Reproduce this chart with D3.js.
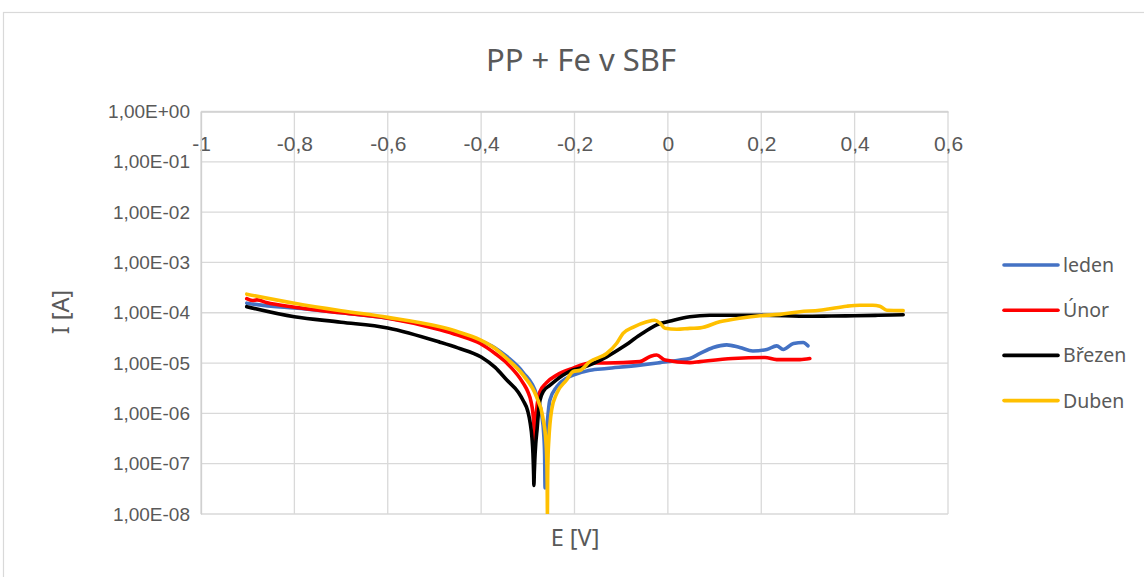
<!DOCTYPE html>
<html lang="cs">
<head>
<meta charset="UTF-8">
<title>PP + Fe v SBF</title>
<style>
  body { margin: 0; background: #fff; }
  svg { display: block; font-family: "Noto Sans", sans-serif; }
</style>
</head>
<body>
<div id="chart"></div>
<script src="https://d3js.org/d3.v7.min.js"></script>
<script>
// potential E [V] and current I [A]
const ledenE = [-0.902, -0.85, -0.8, -0.7, -0.6, -0.488, -0.45, -0.402, -0.37, -0.345, -0.31, -0.281, -0.27, -0.266, -0.264, -0.263, -0.2625, -0.261, -0.258, -0.253, -0.238, -0.217, -0.203, -0.167, -0.131, -0.06, -0.017, 0.026, 0.047, 0.069, 0.097, 0.126, 0.154, 0.182, 0.212, 0.233, 0.247, 0.269, 0.29, 0.3];
const ledenI = [1.55e-4, 1.35e-4, 1.25e-4, 1.0e-4, 7.8e-5, 5.0e-5, 3.9e-5, 2.8e-5, 2.0e-5, 1.35e-5, 6.5e-6, 2.3e-6, 9e-7, 4e-7, 1.5e-7, 3.3e-8, 1e-7, 3e-7, 7e-7, 1.8e-6, 3.4e-6, 5.0e-6, 5.75e-6, 7.2e-6, 7.8e-6, 9.1e-6, 1.02e-5, 1.15e-5, 1.23e-5, 1.55e-5, 2.04e-5, 2.3e-5, 2.04e-5, 1.74e-5, 1.86e-5, 2.2e-5, 1.86e-5, 2.45e-5, 2.57e-5, 2.2e-5];

const unorE = [-0.902, -0.89, -0.88, -0.86, -0.8, -0.7, -0.6, -0.488, -0.45, -0.402, -0.37, -0.345, -0.31, -0.3, -0.293, -0.289, -0.2865, -0.285, -0.2835, -0.281, -0.274, -0.261, -0.238, -0.203, -0.167, -0.131, -0.06, -0.038, -0.024, -0.006, 0.047, 0.069, 0.139, 0.208, 0.233, 0.283, 0.304];
const unorI = [1.9e-4, 1.75e-4, 1.8e-4, 1.6e-4, 1.29e-4, 1.0e-4, 7.8e-5, 4.6e-5, 3.6e-5, 2.45e-5, 1.55e-5, 1.0e-5, 4.0e-6, 2.7e-6, 1.7e-6, 1.0e-6, 5e-7, 2.5e-7, 5e-7, 1.2e-6, 2.7e-6, 4.0e-6, 5.75e-6, 7.9e-6, 1.0e-5, 1.0e-5, 1.07e-5, 1.35e-5, 1.45e-5, 1.15e-5, 1.02e-5, 1.07e-5, 1.23e-5, 1.29e-5, 1.17e-5, 1.17e-5, 1.23e-5];

const brezenE = [-0.902, -0.8, -0.7, -0.6, -0.488, -0.45, -0.4, -0.37, -0.345, -0.32, -0.31, -0.3, -0.295, -0.291, -0.289, -0.2875, -0.287, -0.286, -0.285, -0.283, -0.28, -0.277, -0.274, -0.266, -0.253, -0.225, -0.203, -0.188, -0.131, -0.096, -0.06, -0.024, 0.012, 0.047, 0.09, 0.197, 0.304, 0.35, 0.4, 0.45, 0.504];
const brezenI = [1.32e-4, 8.3e-5, 6.5e-5, 5.0e-5, 2.6e-5, 2.0e-5, 1.32e-5, 8.2e-6, 4.6e-6, 2.6e-6, 1.8e-6, 1.1e-6, 6.5e-7, 3.2e-7, 1.6e-7, 6e-8, 3.7e-8, 7e-8, 1.2e-7, 2.5e-7, 5e-7, 1.1e-6, 1.8e-6, 2.8e-6, 3.6e-6, 5.75e-6, 7.3e-6, 7.9e-6, 1.33e-5, 2.1e-5, 3.6e-5, 5.75e-5, 7.1e-5, 8.3e-5, 8.9e-5, 8.9e-5, 8.5e-5, 8.6e-5, 8.7e-5, 8.9e-5, 9.1e-5];

const dubenE = [-0.902, -0.8, -0.7, -0.6, -0.488, -0.45, -0.402, -0.37, -0.345, -0.31, -0.281, -0.268, -0.261, -0.259, -0.2585, -0.258, -0.2575, -0.2565, -0.255, -0.249, -0.238, -0.217, -0.203, -0.188, -0.167, -0.131, -0.11, -0.096, -0.075, -0.045, -0.028, -0.017, -0.006, 0.019, 0.047, 0.069, 0.111, 0.154, 0.197, 0.24, 0.283, 0.325, 0.34, 0.383, 0.411, 0.439, 0.454, 0.469, 0.504];
const dubenI = [2.34e-4, 1.55e-4, 1.1e-4, 8.1e-5, 5.25e-5, 4.2e-5, 2.9e-5, 1.95e-5, 1.23e-5, 5.75e-6, 2.1e-6, 8.5e-7, 2.6e-7, 8.7e-8, 4e-8, 1e-8, 5e-8, 1.5e-7, 2.95e-7, 1.17e-6, 2.5e-6, 4.6e-6, 6.8e-6, 7.2e-6, 1.07e-5, 1.55e-5, 2.45e-5, 3.9e-5, 5.1e-5, 6.6e-5, 7.1e-5, 6.2e-5, 4.9e-5, 4.7e-5, 4.9e-5, 5.0e-5, 6.6e-5, 7.8e-5, 8.7e-5, 9.3e-5, 1.05e-4, 1.12e-4, 1.17e-4, 1.35e-4, 1.41e-4, 1.41e-4, 1.35e-4, 1.12e-4, 1.1e-4];

const seriesNames = ["leden", "Únor", "Březen", "Duben"];
const seriesColors = ["#4472C4", "#FF0000", "#000000", "#FFC000"];
const xTicks = [-1, -0.8, -0.6, -0.4, -0.2, 0, 0.2, 0.4, 0.6];
const yTicks = [1e0, 1e-1, 1e-2, 1e-3, 1e-4, 1e-5, 1e-6, 1e-7, 1e-8];

const series = [
  { name: seriesNames[0], color: seriesColors[0], E: ledenE, I: ledenI },
  { name: seriesNames[1], color: seriesColors[1], E: unorE, I: unorI },
  { name: seriesNames[2], color: seriesColors[2], E: brezenE, I: brezenI },
  { name: seriesNames[3], color: seriesColors[3], E: dubenE, I: dubenI }
];

const width = 1144, height = 577;
const plot = { left: 201, right: 948, top: 111.5, bottom: 514 };
const textColor = "#595959";
const gridColor = "#d9d9d9";

const svg = d3.select("#chart").append("svg")
  .attr("width", width)
  .attr("height", height);

// chart border
svg.append("rect")
  .attr("x", 3.5).attr("y", 12.5)
  .attr("width", width + 20).attr("height", height + 20)
  .attr("fill", "#fff")
  .attr("stroke", "#d9d9d9")
  .attr("stroke-width", 1.2);

const x = d3.scaleLinear().domain([-1, 0.6]).range([plot.left, plot.right]);
const y = d3.scaleLog().domain([1e-8, 1]).range([plot.bottom, plot.top]);

// Excel style labels: decimal comma, plain hyphen
const fmtX = d => String(Math.round(d * 10) / 10).replace(".", ",");
const fmtY = d => {
  const p = Math.round(Math.log10(d));
  const s = p < 0 ? "-" : "+";
  return "1,00E" + s + String(Math.abs(p)).padStart(2, "0");
};

// grid
svg.append("g")
  .selectAll("line")
  .data(yTicks)
  .join("line")
  .attr("x1", plot.left).attr("x2", plot.right)
  .attr("y1", d => y(d)).attr("y2", d => y(d))
  .attr("stroke", gridColor).attr("stroke-width", 1.3);

svg.append("g")
  .selectAll("line")
  .data(xTicks)
  .join("line")
  .attr("x1", d => x(d)).attr("x2", d => x(d))
  .attr("y1", plot.top).attr("y2", plot.bottom)
  .attr("stroke", gridColor).attr("stroke-width", 1.3);

// axes (x axis crosses at 1E+00, labels sit below that line)
const xAxis = svg.append("g")
  .attr("transform", `translate(0,${plot.top})`)
  .call(d3.axisBottom(x).tickValues(xTicks).tickFormat(fmtX).tickSize(0).tickPadding(0));
xAxis.select(".domain").attr("stroke", "#d0d0d0").attr("stroke-width", 1.3);
xAxis.selectAll("text")
  .attr("fill", textColor)
  .style("font-size", "21px")
  .attr("y", 32)
  .attr("dy", "0.36em");

const yAxis = svg.append("g")
  .attr("transform", `translate(${plot.left},0)`)
  .call(d3.axisLeft(y).tickValues(yTicks).tickFormat(fmtY).tickSize(0).tickPadding(11));
yAxis.select(".domain").attr("stroke", "#d0d0d0").attr("stroke-width", 1.3);
yAxis.selectAll("text")
  .attr("fill", textColor)
  .style("font-size", "19px");

// series
svg.append("clipPath").attr("id", "clip")
  .append("rect")
  .attr("x", plot.left).attr("y", plot.top)
  .attr("width", plot.right - plot.left).attr("height", plot.bottom - plot.top);

const line = d3.line()
  .x(d => x(d[0]))
  .y(d => y(d[1]))
  .curve(d3.curveMonotoneX);

svg.append("g")
  .attr("clip-path", "url(#clip)")
  .selectAll("path")
  .data(series)
  .join("path")
  .attr("d", s => line(s.E.map((e, i) => [e, s.I[i]])))
  .attr("fill", "none")
  .attr("stroke", s => s.color)
  .attr("stroke-width", 3.6)
  .attr("stroke-linejoin", "round")
  .attr("stroke-linecap", "round");

// title
svg.append("text")
  .attr("x", 581).attr("y", 71)
  .attr("text-anchor", "middle")
  .attr("fill", textColor)
  .style("font-size", "31px")
  .text("PP + Fe v SBF");

// axis titles
svg.append("text")
  .attr("x", 575).attr("y", 546)
  .attr("text-anchor", "middle")
  .attr("fill", textColor)
  .style("font-size", "23.5px")
  .text("E [V]");

svg.append("text")
  .attr("transform", "translate(69,312) rotate(-90)")
  .attr("text-anchor", "middle")
  .attr("fill", textColor)
  .style("font-size", "23.5px")
  .text("I [A]");

// legend
const legend = svg.append("g")
  .selectAll("g")
  .data(series)
  .join("g")
  .attr("transform", (d, i) => `translate(1004,${265 + i * 45.2})`);

legend.append("line")
  .attr("x1", 0).attr("x2", 54)
  .attr("stroke", d => d.color)
  .attr("stroke-width", 3.6)
  .attr("stroke-linecap", "round");

legend.append("text")
  .attr("x", 59).attr("y", 0)
  .attr("dy", "0.36em")
  .attr("fill", textColor)
  .style("font-size", "19.5px")
  .text(d => d.name);
</script>
</body>
</html>
